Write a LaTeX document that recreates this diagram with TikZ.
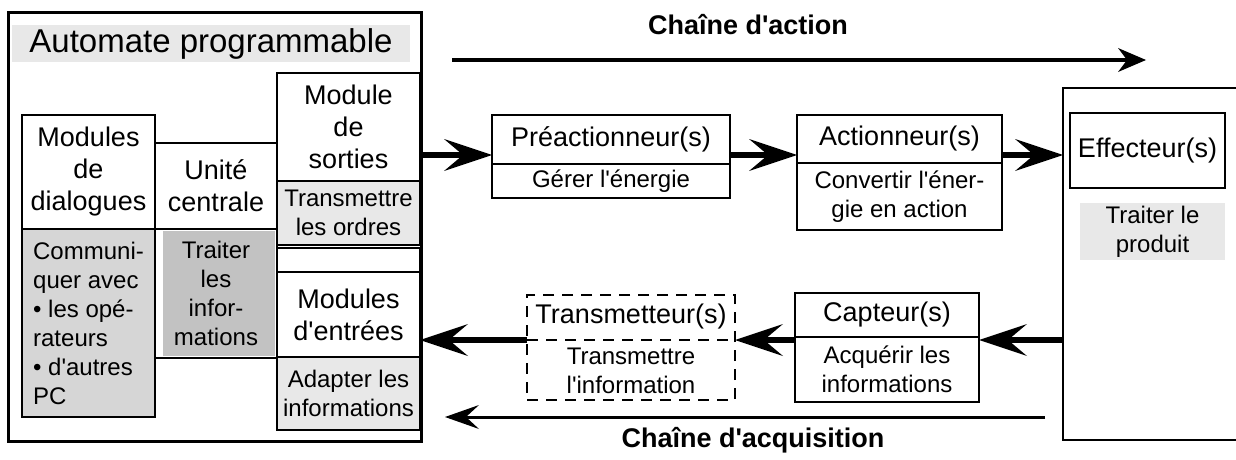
\documentclass[tikz,border=0pt]{standalone}
\usepackage{fontspec}
\setmainfont{Liberation Sans}[Ligatures=TeXOff]
\usetikzlibrary{arrows.meta,calc}
\newcommand\mainf{\fontsize{27}{32}\selectfont}
\newcommand\secf{\fontsize{24}{29}\selectfont}
\newcommand\titf{\fontsize{33}{38}\selectfont}
\newcommand\chainf{\fontsize{27}{32}\selectfont\bfseries}
\newcommand\mycell[7]{\node[#6,minimum width={#4-#2},minimum height={#5-#3}] (#1) at ({(#2+#4)/2},{(#3+#5)/2}) {#7};}
\colorlet{shL}{black!9}
\colorlet{shM}{black!16}
\colorlet{shD}{black!24}
\begin{document}
\begin{tikzpicture}[x=1pt,y=-1pt,
  every node/.style={inner sep=0pt,outer sep=0pt,align=center,font=\mainf},
  box/.style={draw,line width=2.5pt},
  outer/.style={draw,line width=3pt},
  dbox/.style={draw,line width=2.5pt,dash pattern=on 11pt off 8pt},
  big/.style={line width=6pt,-{Stealth[length=48pt,width=32pt,inset=19pt,line width=0pt]}},
  chain/.style={line width=4pt,-{Stealth[length=28pt,width=24pt,inset=9pt,line width=0pt]}},
  chainB/.style={line width=3pt,-{Stealth[length=34pt,width=24pt,inset=13pt,line width=0pt]}}]
\useasboundingbox (0,0) rectangle (1236,460);
\fill[white] (0,0) rectangle (1236,460);
% Automate programmable
\mycell{auto}{8}{13}{421}{441}{outer}{}
\mycell{title}{12}{25}{410}{62}{fill=shL,font=\titf}{Automate programmable}
\mycell{dlgT}{22}{115}{155}{229}{box}{Modules\\de\\dialogues}
\mycell{dlgB}{22}{229}{155}{417}{box,fill=shM,font=\secf,align=left}{Communi-\\quer avec\\• les opé-\\rateurs\\• d'autres\\PC}
\mycell{ucT}{155}{143}{277}{229}{box}{Unité\\centrale}
\fill[shD] (163,231) rectangle (275,356);
\mycell{ucB}{155}{229}{277}{358}{box,font=\secf}{Traiter\\les\\infor-\\mations}
\mycell{msT}{277}{73}{420}{181}{box}{Module\\de\\sorties}
\mycell{msB}{277}{181}{420}{245}{box,fill=shL,font=\secf}{Transmettre\\les ordres}
\mycell{msE}{277}{248}{420}{272}{box}{}
\mycell{meT}{277}{272}{420}{357}{box}{Modules\\d'entrées}
\mycell{meB}{277}{357}{420}{430}{box,fill=shL,font=\secf}{Adapter les\\informations}
% action chain
\mycell{preT}{492}{115}{730}{164}{box}{Préactionneur(s)}
\mycell{preB}{492}{164}{730}{198}{box,font=\secf}{Gérer l'énergie}
\mycell{actT}{797}{115}{1002}{163}{box}{Actionneur(s)}
\mycell{actB}{797}{163}{1002}{230}{box,font=\secf}{Convertir l'éner-\\gie en action}
\mycell{eff}{1063}{88}{1250}{440}{box}{}
\mycell{effI}{1070}{113}{1225}{188}{box}{Effecteur(s)}
\mycell{effP}{1080}{203}{1225}{260}{fill=shL,font=\secf}{Traiter le\\produit}
% acquisition chain
\mycell{capT}{795}{293}{979}{337}{box}{Capteur(s)}
\mycell{capB}{795}{337}{979}{402}{box,font=\secf}{Acquérir les\\informations}
\mycell{trans}{527}{295}{735}{400}{dbox}{}
\node (transA) at (631,317) {Transmetteur(s)};
\node[font=\secf] (transB) at (631,371) {Transmettre\\l'information};
\coordinate (yA) at (0,155);
\coordinate (yB) at (0,340);
\draw[dbox] (trans.west |- yB) -- (trans.east |- yB);
% connectors
\draw[big] (msT.east |- yA) -- (preT.west |- yA);
\draw[big] (preT.east |- yA) -- (actT.west |- yA);
\draw[big] (actT.east |- yA) -- (eff.west |- yA);
\draw[big] (eff.west |- yB) -- (capT.east |- yB);
\draw[big] (capT.west |- yB) -- (trans.east |- yB);
\draw[big] (trans.west |- yB) -- (meT.east |- yB);
% chain labels
\node[font=\chainf] (ca) at (748,25) {Chaîne d'action};
\coordinate (ca1) at (452,60);
\coordinate (ca2) at (1146,60);
\draw[chain] (ca1) -- (ca2);
\node[font=\chainf] (cq) at (753,440) {Chaîne d'acquisition};
\coordinate (cq1) at (1045,417);
\coordinate (cq2) at (445,417);
\draw[chainB] (cq1) -- (cq2);
\end{tikzpicture}
\end{document}
